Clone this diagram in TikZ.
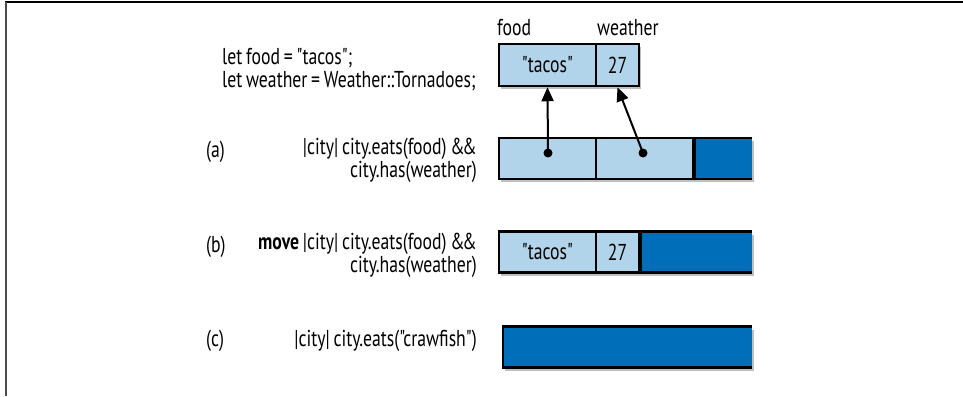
\documentclass[tikz,border=0pt]{standalone}
\usepackage{fontspec}
\setmainfont{PT Sans}[FakeStretch=0.77,WordSpace=0.8,Ligatures=TeXOff]
\usetikzlibrary{arrows.meta,shadows}
\definecolor{lightcell}{RGB}{178,212,234}
\definecolor{darkcell}{RGB}{0,110,184}
\newcommand{\ampamp}{\&\kern-2.5pt\&}
\begin{document}
\begin{tikzpicture}[x=1pt,y=-1pt,
  font=\fontsize{23}{20}\selectfont,
  shade/.style={drop shadow={shadow xshift=2pt,shadow yshift=-3pt,opacity=0.25,fill=black}},
  cell/.style={draw=black,line width=2.5pt,fill=lightcell,inner sep=0pt,minimum height=41pt,shade},
  dcell/.style={fill=darkcell,inner sep=0pt,minimum height=41pt,shade},
  edge/.style={line width=2.5pt},
  txt/.style={inner sep=0pt},
  dot/.style={circle,fill=black,inner sep=0pt,minimum size=9pt},
  ptr/.style={line width=2pt,-{Triangle[length=14pt,width=12pt]}}]
\useasboundingbox (0,0) rectangle (963,396);
% frame
\draw[line width=2pt] (5,2) -- (963,2);
\draw[line width=2pt,black!70] (6,2) -- (6,396);
% top
\node[txt,anchor=base west] (lbfood) at (497,36) {food};
\node[txt,anchor=base west] (lbwea) at (597,36) {weather};
\node[txt,anchor=base west] (code1) at (222,65) {let food = "tacos";};
\node[txt,anchor=base west] (code2) at (222,87) {let weather = Weather::Tornadoes;};
\node[cell,minimum width=97pt,minimum height=42pt] (food) at (547.5,65) {"tacos"};
\node[cell,minimum width=43pt,minimum height=42pt] (wea) at (617.5,65) {27};
% (a)
\node[txt,anchor=base west] (la) at (206,157) {(a)};
\node[txt,anchor=base east,align=right] (ta) at (477,177) {|city| city.eats(food) \ampamp\\city.has(weather)};
\node[cell,minimum width=97pt] (a1) at (547.5,158.5) {};
\node[cell,minimum width=97pt] (a2) at (644.5,158.5) {};
\node[dcell,minimum width=59pt] (a3) at (722.5,158.5) {};
\draw[edge] (a3.north west) -- (a3.north east);
\draw[edge] (a3.south west) -- (a3.south east);
\draw[edge] (a2.north east) -- (a2.south east);
\node[dot] (d1) at (548,153) {};
\node[dot] (d2) at (643,153) {};
\draw[ptr] (d1.center) -- (food.south);
\draw[ptr] (d2.center) -- (wea.south);
% (b)
\node[txt,anchor=base west] (lb) at (206,252) {(b)};
\node[txt,anchor=base east,align=right] (tb) at (477,272) {\textbf{move} |city| city.eats(food) \ampamp\\city.has(weather)};
\node[cell,minimum width=97pt] (b1) at (547.5,252) {"tacos"};
\node[cell,minimum width=43pt] (b2) at (617.5,252) {27};
\node[dcell,minimum width=113pt] (b3) at (695.5,252) {};
\draw[edge] (b3.north west) -- (b3.north east);
\draw[edge] (b3.south west) -- (b3.south east);
\draw[edge] (b2.north east) -- (b2.south east);
% (c)
\node[txt,anchor=base west] (lc) at (206,346) {(c)};
\node[txt,anchor=base east] (tc) at (477,346) {|city| city.eats("crawfish")};
\node[dcell,minimum width=249pt] (c1) at (627.5,347) {};
\draw[edge] (c1.north east) -- (c1.north west) -- (c1.south west) -- (c1.south east);
\end{tikzpicture}
\end{document}
